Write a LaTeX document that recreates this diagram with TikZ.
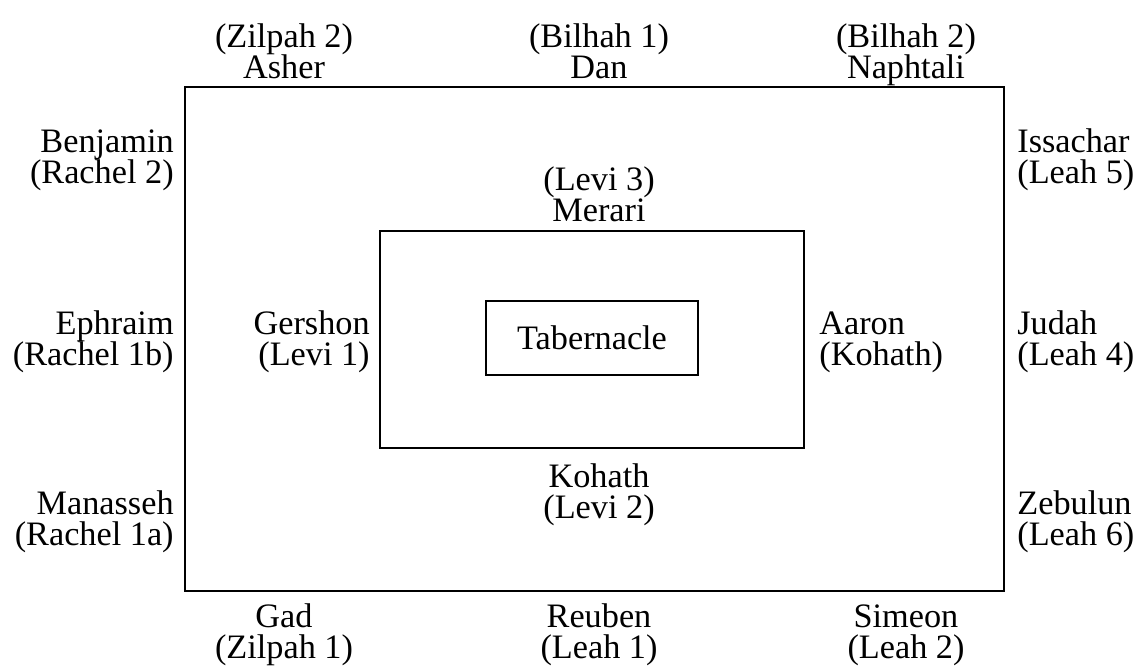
\documentclass[tikz,border=0pt]{standalone}
\usepackage{fontspec}
\setmainfont{Liberation Serif}
\usepackage{tikz}
\usetikzlibrary{positioning}

\newcommand{\tribefont}{\fontsize{19.5}{17.6}\selectfont\setlength{\lineskiplimit}{-20pt}}

\begin{document}
\begin{tikzpicture}[
    x=0.02cm, y=-0.02cm,
    box/.style={
        rectangle, draw, line width=1.1pt, inner sep=0pt
    },
    tribe/.style={
        align=center, anchor=base, inner sep=0pt, font=\tribefont
    },
    west tribe/.style={tribe, align=right, anchor=base east},
    east tribe/.style={tribe, align=left, anchor=base west},
]
\useasboundingbox (0,0) rectangle (1138,667);

% Camp boxes
\node[box, minimum width=16.38cm, minimum height=10.08cm] (camp) at (594.5,339) {};
\node[box, minimum width=8.48cm, minimum height=4.34cm] (levites) at (592,339.5) {};
\node[box, minimum width=4.24cm, minimum height=1.48cm, font=\tribefont]
    (tabernacle) at (592,338) {Tabernacle};

% North side
\node[tribe] (asher) at (284,78) {(Zilpah 2)\\Asher};
\node[tribe] (dan) at (599,78) {(Bilhah 1)\\Dan};
\node[tribe] (naphtali) at (906,78) {(Bilhah 2)\\Naphtali};

% West side
\node[west tribe] (benjamin) at (174,183) {Benjamin\\(Rachel 2)};
\node[west tribe] (ephraim) at (174,365) {Ephraim\\(Rachel 1b)};
\node[west tribe] (manasseh) at (174,545) {Manasseh\\(Rachel 1a)};

% East side
\node[east tribe] (issachar) at (1017,183) {Issachar\\(Leah 5)};
\node[east tribe] (judah) at (1017,365) {Judah\\(Leah 4)};
\node[east tribe] (zebulun) at (1017,545) {Zebulun\\(Leah 6)};

% South side
\node[tribe] (gad) at (284,658) {Gad\\(Zilpah 1)};
\node[tribe] (reuben) at (599,658) {Reuben\\(Leah 1)};
\node[tribe] (simeon) at (906,658) {Simeon\\(Leah 2)};

% Levites round the tabernacle
\node[tribe] (merari) at (599,221) {(Levi 3)\\Merari};
\node[west tribe] (gershon) at (370,365) {Gershon\\(Levi 1)};
\node[east tribe] (aaron) at (819,365) {Aaron\\(Kohath)};
\node[tribe] (kohath) at (599,518) {Kohath\\(Levi 2)};
\end{tikzpicture}
\end{document}
